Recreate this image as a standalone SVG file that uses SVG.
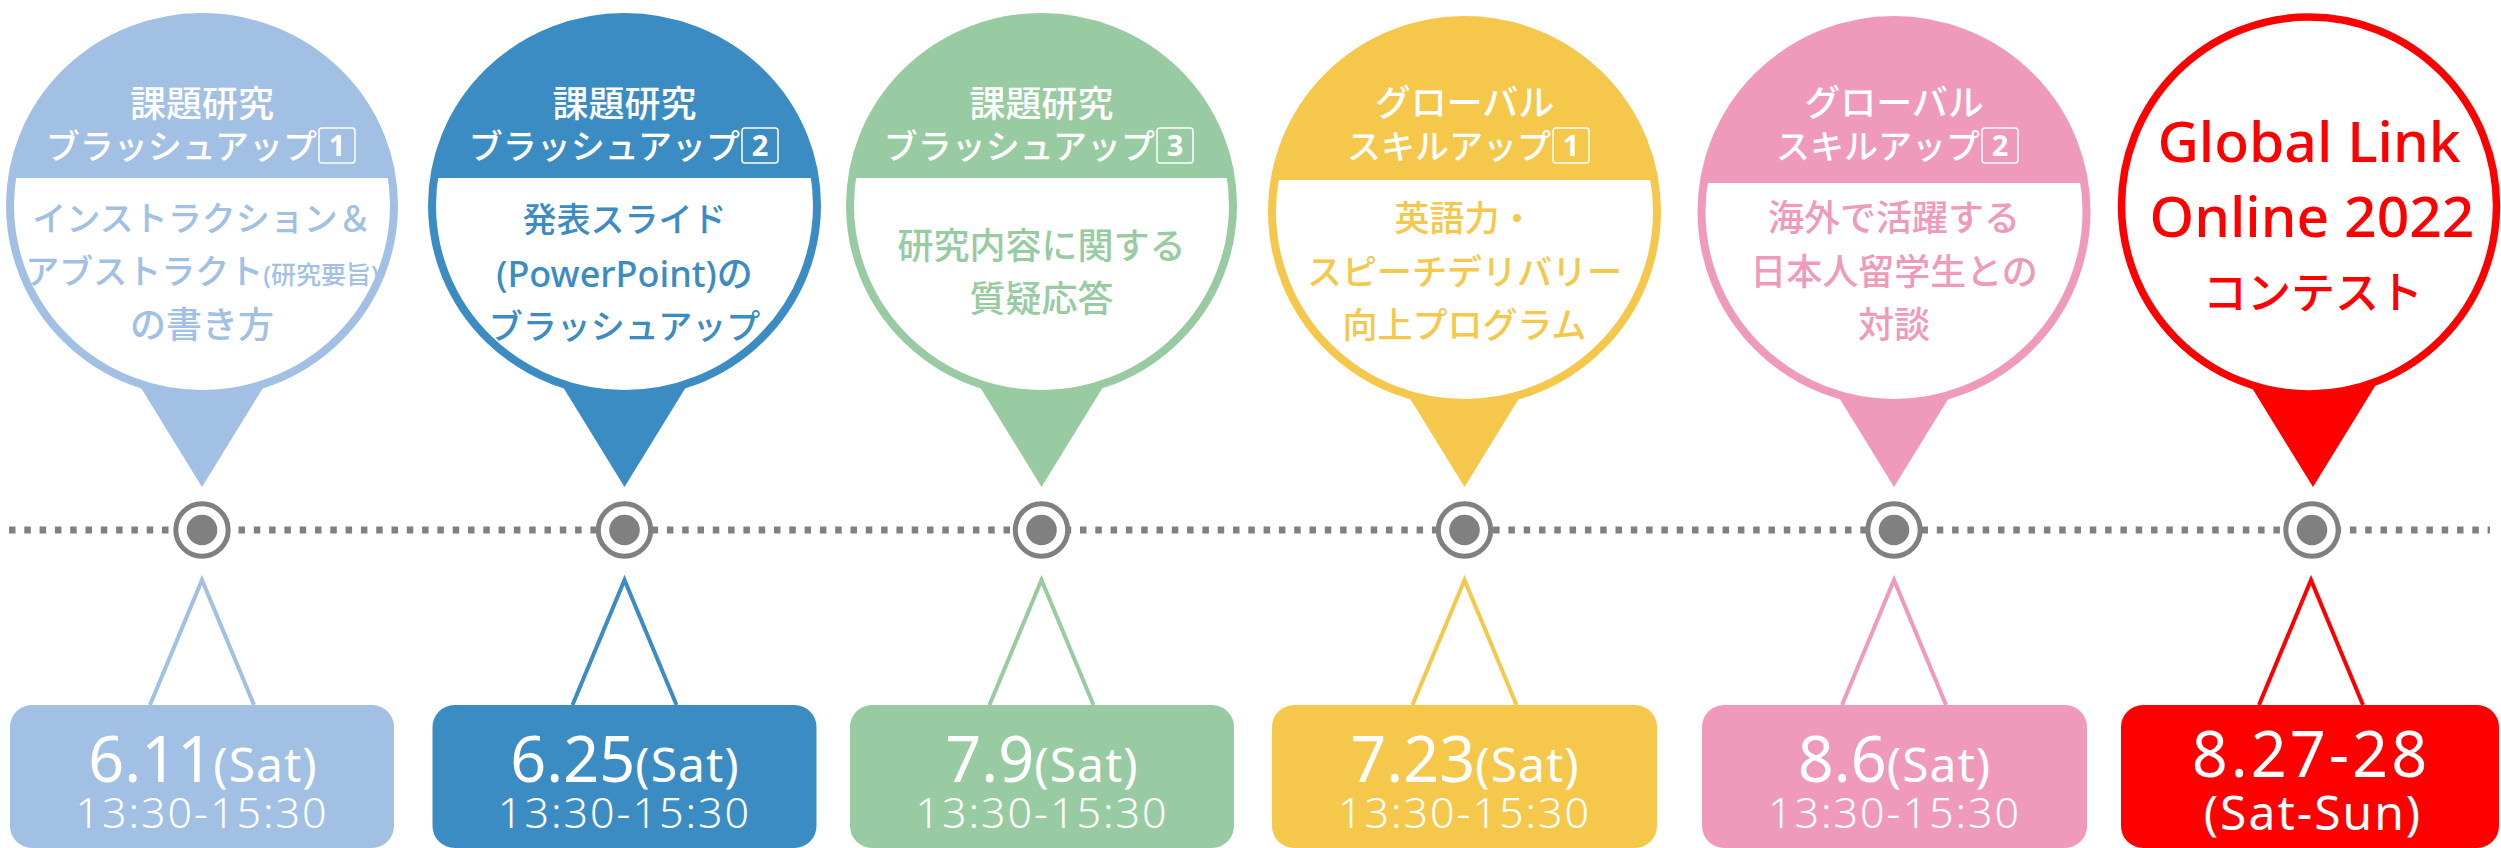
<svg xmlns="http://www.w3.org/2000/svg" width="2501" height="848" viewBox="0 0 2501 848">
<defs>
<style>
.jp{font-family:"Noto Sans","Noto Sans CJK JP",sans-serif;text-anchor:middle}
.hd{fill:#fff;font-weight:500}
.bd{font-weight:500}
.num{fill:#fff;font-weight:700;font-size:29px}
.nbox{fill:none;stroke:#fff;stroke-width:1.5}
.date{fill:#fff;font-weight:400;font-size:63px}
.sat{font-weight:400;font-size:48px;letter-spacing:1px}
.time{fill:#fff;font-weight:300;font-size:43px;letter-spacing:2px}
.ring{fill:#fff;stroke:#808080;stroke-width:5}
.core{fill:#808080}
.tl{stroke:#808080;stroke-width:7;stroke-dasharray:6.5 8.8;fill:none}
.cn{fill:none;stroke-width:4;stroke-linejoin:miter}
.c1{fill:#A2BFE4}.s1{stroke:#A2BFE4}
.c2{fill:#3C8CC4}.s2{stroke:#3C8CC4}
.c3{fill:#98CBA1}.s3{stroke:#98CBA1}
.c4{fill:#F5C84C}.s4{stroke:#F5C84C}
.c5{fill:#F09ABB}.s5{stroke:#F09ABB}
.c6{fill:#FE0000}.s6{stroke:#FE0000}
.bub{fill:#fff;stroke-width:8}
</style>
</defs>
<rect width="2501" height="848" fill="#fff"/>

<g id="connectors">
<line class="tl" x1="9" y1="530" x2="2490" y2="530"/>
<polyline class="cn s1" points="150,705 202,580 254,705"/>
<polyline class="cn s2" points="572.5,705 624.5,580 676.5,705"/>
<polyline class="cn s3" points="989.5,705 1041.5,580 1093.5,705"/>
<polyline class="cn s4" points="1412.5,705 1464.5,580 1516.5,705"/>
<polyline class="cn s5" points="1842,705 1894,580 1946,705"/>
<polyline class="cn s6" points="2259,705 2311,580 2363,705"/>
</g>

<g id="dots">
<circle class="ring" cx="202" cy="530" r="26.2"/><circle class="core" cx="202" cy="530" r="15.3"/>
<circle class="ring" cx="624.5" cy="530" r="26.2"/><circle class="core" cx="624.5" cy="530" r="15.3"/>
<circle class="ring" cx="1041.5" cy="530" r="26.2"/><circle class="core" cx="1041.5" cy="530" r="15.3"/>
<circle class="ring" cx="1464.5" cy="530" r="26.2"/><circle class="core" cx="1464.5" cy="530" r="15.3"/>
<circle class="ring" cx="1894" cy="530" r="26.2"/><circle class="core" cx="1894" cy="530" r="15.3"/>
<circle class="ring" cx="2312" cy="530" r="26.2"/><circle class="core" cx="2312" cy="530" r="15.3"/>
</g>

<g id="bubble1">
<polygon class="c1" points="130,370 274,370 202,487"/>
<ellipse class="bub s1" cx="202" cy="205.5" rx="192" ry="188.5"/>
<path class="c1" d="M12.05 178 A192 188.5 0 0 1 391.95 178 Z"/>
<text class="jp hd" x="202" y="117" font-size="36">課題研究</text>
<text class="jp hd" x="317" y="159" font-size="34" style="text-anchor:end">ブラッシュアップ</text>
<rect class="nbox" x="319" y="128" width="36" height="35" rx="3"/>
<text class="jp num" x="337" y="156">1</text>
<text class="jp bd c1" x="202" y="231" font-size="34">インストラクション＆</text>
<text class="jp bd c1" x="202" y="284" font-size="34">アブストラクト<tspan font-size="25">(研究要旨)</tspan></text>
<text class="jp bd c1" x="202" y="338" font-size="36">の書き方</text>
</g>

<g id="bubble2">
<polygon class="c2" points="552.5,370 696.5,370 624.5,487"/>
<ellipse class="bub s2" cx="624.5" cy="205.5" rx="192.5" ry="188.5"/>
<path class="c2" d="M434.06 178 A192.5 188.5 0 0 1 814.94 178 Z"/>
<text class="jp hd" x="624.5" y="117" font-size="36">課題研究</text>
<text class="jp hd" x="740" y="159" font-size="34" style="text-anchor:end">ブラッシュアップ</text>
<rect class="nbox" x="742" y="128" width="36" height="35" rx="3"/>
<text class="jp num" x="760" y="156">2</text>
<text class="jp bd c2" x="624.5" y="232" font-size="34">発表スライド</text>
<text class="jp bd c2" x="624.5" y="287" font-size="36">(PowerPoint)の</text>
<text class="jp bd c2" x="624.5" y="339" font-size="34">ブラッシュアップ</text>
</g>

<g id="bubble3">
<polygon class="c3" points="969.5,370 1113.5,370 1041.5,487"/>
<ellipse class="bub s3" cx="1041.5" cy="205.5" rx="191.5" ry="188.5"/>
<path class="c3" d="M852.05 178 A191.5 188.5 0 0 1 1230.95 178 Z"/>
<text class="jp hd" x="1041.5" y="117" font-size="36">課題研究</text>
<text class="jp hd" x="1155" y="159" font-size="34" style="text-anchor:end">ブラッシュアップ</text>
<rect class="nbox" x="1157" y="128" width="36" height="35" rx="3"/>
<text class="jp num" x="1175" y="156">3</text>
<text class="jp bd c3" x="1041.5" y="259" font-size="36">研究内容に関する</text>
<text class="jp bd c3" x="1041.5" y="312" font-size="36">質疑応答</text>
</g>

<g id="bubble4">
<polygon class="c4" points="1392.5,370 1536.5,370 1464.5,487"/>
<ellipse class="bub s4" cx="1464.5" cy="211.5" rx="192.5" ry="191.5"/>
<path class="c4" d="M1274.62 180 A192.5 191.5 0 0 1 1654.38 180 Z"/>
<text class="jp hd" x="1464.5" y="116" font-size="36">グローバル</text>
<text class="jp hd" x="1551" y="159" font-size="34" style="text-anchor:end">スキルアップ</text>
<rect class="nbox" x="1553" y="128" width="36" height="35" rx="3"/>
<text class="jp num" x="1571" y="156">1</text>
<text class="jp bd c4" x="1464.5" y="231" font-size="35">英語力・</text>
<text class="jp bd c4" x="1464.5" y="285" font-size="35">スピーチデリバリー</text>
<text class="jp bd c4" x="1464.5" y="338" font-size="35">向上プログラム</text>
</g>

<g id="bubble5">
<polygon class="c5" points="1822,370 1966,370 1894,487"/>
<ellipse class="bub s5" cx="1894" cy="211.5" rx="192.5" ry="191.5"/>
<path class="c5" d="M1703.64 183 A192.5 191.5 0 0 1 2084.36 183 Z"/>
<text class="jp hd" x="1894" y="116" font-size="36">グローバル</text>
<text class="jp hd" x="1980" y="159" font-size="34" style="text-anchor:end">スキルアップ</text>
<rect class="nbox" x="1982" y="128" width="36" height="35" rx="3"/>
<text class="jp num" x="2000" y="156">2</text>
<text class="jp bd c5" x="1894" y="231" font-size="36">海外で活躍する</text>
<text class="jp bd c5" x="1894" y="285" font-size="36">日本人留学生との</text>
<text class="jp bd c5" x="1894" y="338" font-size="36">対談</text>
</g>

<g id="bubble6">
<polygon class="c6" points="2241,370 2385,370 2313,487"/>
<ellipse class="bub s6" cx="2309" cy="205.5" rx="187.5" ry="188.5" style="stroke-width:7.5"/>
<text class="jp bd c6" x="2309" y="162" font-size="57">Global Link</text>
<text class="jp bd c6" x="2312" y="237" font-size="57">Online 2022</text>
<text class="jp bd c6" x="2313" y="309" font-size="44">コンテスト</text>
</g>

<g id="date1">
<rect class="c1" x="10" y="705" width="384" height="143" rx="22"/>
<text class="jp date" x="203" y="782">6.11<tspan class="sat">(Sat)</tspan></text>
<text class="jp time" x="202" y="828">13:30-15:30</text>
</g>
<g id="date2">
<rect class="c2" x="432.5" y="705" width="384" height="143" rx="22"/>
<text class="jp date" x="625" y="782">6.25<tspan class="sat">(Sat)</tspan></text>
<text class="jp time" x="624.5" y="828">13:30-15:30</text>
</g>
<g id="date3">
<rect class="c3" x="850" y="705" width="384" height="143" rx="22"/>
<text class="jp date" x="1042" y="782">7.9<tspan class="sat">(Sat)</tspan></text>
<text class="jp time" x="1042" y="828">13:30-15:30</text>
</g>
<g id="date4">
<rect class="c4" x="1272" y="705" width="385" height="143" rx="22"/>
<text class="jp date" x="1465" y="782">7.23<tspan class="sat">(Sat)</tspan></text>
<text class="jp time" x="1464.5" y="828">13:30-15:30</text>
</g>
<g id="date5">
<rect class="c5" x="1702" y="705" width="385" height="143" rx="22"/>
<text class="jp date" x="1894.5" y="782">8.6<tspan class="sat">(Sat)</tspan></text>
<text class="jp time" x="1894.5" y="828">13:30-15:30</text>
</g>
<g id="date6">
<rect class="c6" x="2121" y="705" width="378" height="143" rx="22"/>
<text class="jp date" x="2311" y="777" style="letter-spacing:3px">8.27-28</text>
<text class="jp date" x="2313" y="830" style="font-size:48px;font-weight:400;letter-spacing:2px">(Sat-Sun)</text>
</g>
</svg>
